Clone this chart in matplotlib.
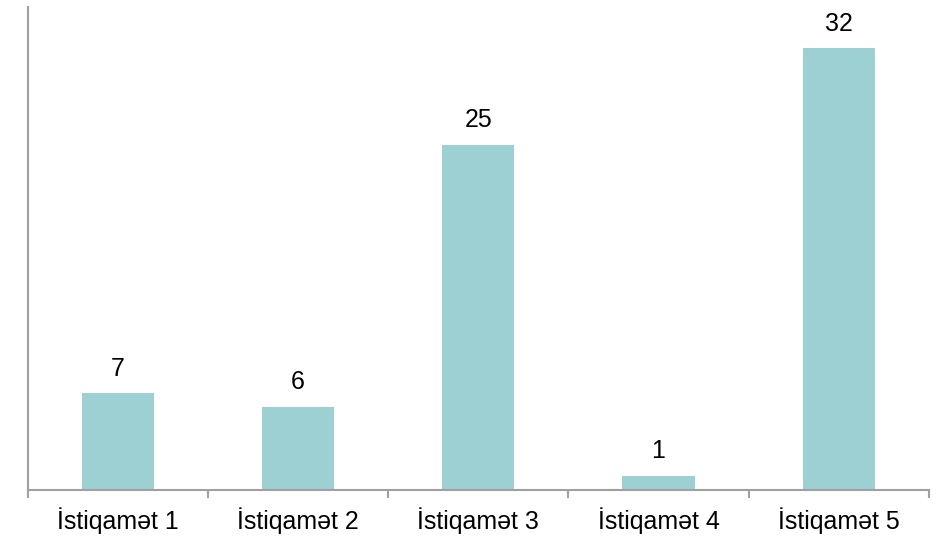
import matplotlib
matplotlib.use("Agg")
from matplotlib import pyplot as plt
import numpy as np

categories = ["İstiqamət 1", "İstiqamət 2", "İstiqamət 3", "İstiqamət 4", "İstiqamət 5"]
values = [7, 6, 25, 1, 32]

plt.rcParams['font.family'] = ['Liberation Sans', 'DejaVu Sans']

fig = plt.figure(figsize=(9.4, 5.36), dpi=100)
ax = fig.add_axes([27.5 / 940, 46.5 / 536, (929 - 27.5) / 940, (489.5 - 7) / 536])

x = np.arange(len(categories))
bars = ax.bar(x, values, width=0.4, color="#9DD0D3")

for xi, v in zip(x, values):
    ax.annotate(str(v), (xi, v), xytext=(0, 9), textcoords="offset points",
                ha="center", va="bottom", fontsize=18, color="#000000")

ax.set_xlim(-0.5, len(categories) - 0.5)
ax.set_ylim(0, 35)

ax.set_xticks(x)
ax.set_xticklabels(categories, fontsize=18)
ax.tick_params(axis="x", which="major", length=0, pad=12.5)
ax.set_xticks(np.arange(-0.5, len(categories)), minor=True)
ax.tick_params(axis="x", which="minor", length=6, width=1.5, color="#A0A0A0")
ax.set_yticks([])

for side in ["top", "right"]:
    ax.spines[side].set_visible(False)
for side in ["left", "bottom"]:
    ax.spines[side].set_color("#A0A0A0")
    ax.spines[side].set_linewidth(1.5)

fig.savefig("out.png", dpi=100)
